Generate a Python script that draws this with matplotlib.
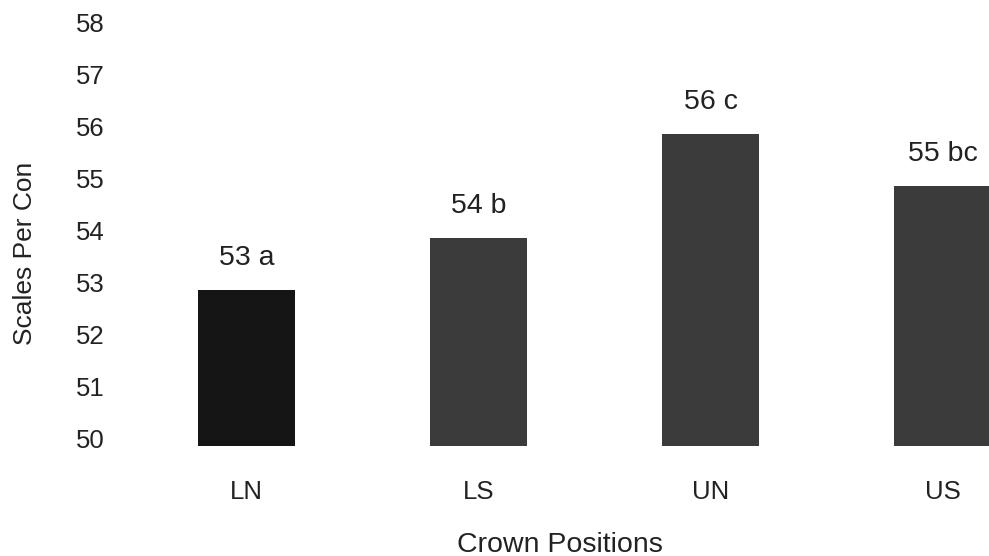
import matplotlib
matplotlib.use("Agg")
import matplotlib.pyplot as plt
import matplotlib.transforms as mtransforms

# values
positions = ["LN", "LS", "UN", "US"]
scales = [53, 54, 56, 55]
letters = ["a", "b", "c", "bc"]
bar_colors = ["#151515", "#3b3b3b", "#3b3b3b", "#3b3b3b"]
yticks = [50, 51, 52, 53, 54, 55, 56, 57, 58]

plt.rcParams["font.family"] = ["Liberation Sans", "DejaVu Sans"]

fig = plt.figure(figsize=(9.89, 5.56), dpi=100)
# axes placed in pixels: left 130, bottom 446 (value 50), top 30 (value 58)
ax = fig.add_axes([130 / 989, 110 / 556, 859 / 989, 416 / 556])

x = list(range(len(positions)))
ax.bar(x, scales, width=0.418, bottom=0, color=bar_colors, edgecolor="none")

ax.set_ylim(50, 58)
ax.set_xlim((130 - 246.5) / 232, (989 - 246.5) / 232)

ax.set_yticks(yticks)
ax.set_yticklabels([str(t) for t in yticks])
ax.set_xticks(x)
ax.set_xticklabels(positions)

ax.tick_params(axis="both", length=0, labelsize=18.5, colors="#222222")
ax.tick_params(axis="y", pad=18.5)
ax.tick_params(axis="x", pad=24.5)
for lab in ax.get_yticklabels():
    lab.set_horizontalalignment("right")

# tick labels in the original sit a little above their value
offset = mtransforms.ScaledTranslation(0, 0.075, fig.dpi_scale_trans)
for lab in ax.get_yticklabels():
    lab.set_transform(lab.get_transform() + offset)

for spine in ax.spines.values():
    spine.set_visible(False)

for xi, v, l in zip(x, scales, letters):
    ax.annotate(f"{v} {l}", (xi, v), xytext=(0, 18), textcoords="offset points",
                ha="center", va="baseline", fontsize=20.5, color="#222222")

ax.set_xlabel("Crown Positions", fontsize=20.5, labelpad=20, color="#222222")
ax.set_ylabel("Scales Per Con", fontsize=19, color="#222222")
ax.yaxis.set_label_coords((37 - 130) / 859, (446 - 253) / 416)

fig.savefig("out.png", dpi=100)
